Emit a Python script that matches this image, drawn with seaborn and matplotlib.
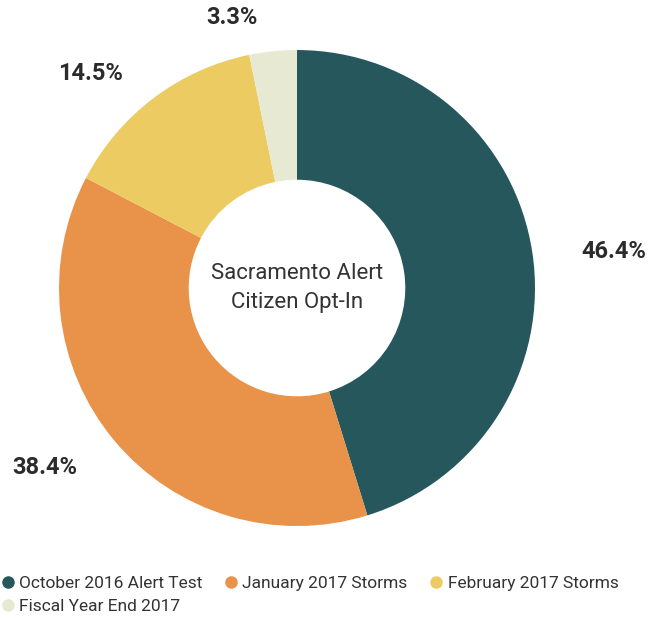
import seaborn as sns
import matplotlib.pyplot as plt
from matplotlib.lines import Line2D
import numpy as np

# data
labels = ['October 2016 Alert Test', 'January 2017 Storms', 'February 2017 Storms', 'Fiscal Year End 2017']
shares = [46.4, 38.4, 14.5, 3.3]
colors = sns.color_palette(['#25575C', '#E8924A', '#ECCB63', '#E7E9D3'])

sns.set_style('white')
plt.rcParams['font.family'] = ['Roboto', 'DejaVu Sans']

total = sum(shares)

fig = plt.figure(figsize=(6.6, 6.19), dpi=100)
ax = fig.add_axes([0.0894, 0.1502, 0.7212, 0.769])

wedges, texts, autotexts = ax.pie(shares, colors=colors, startangle=90, counterclock=False,
                                  radius=1, wedgeprops=dict(width=0.545, linewidth=0),
                                  autopct=lambda p: f'{p * total / 100:.1f}%', pctdistance=1.3)
ax.set_xlim(-1, 1)
ax.set_ylim(-1, 1)
ax.set_aspect('equal')

# nudge labels (radius, angle in degrees)
label_pos = [(1.34, 6.5), (1.30, -144.5), (1.25, 133.9), (1.17, 103.5)]
for t, (r, a) in zip(autotexts, label_pos):
    t.set_position((r * np.cos(np.radians(a)), r * np.sin(np.radians(a))))
    t.set_fontsize(17)
    t.set_fontweight('bold')
    t.set_color('#2b2b2b')
    t.set_ha('center')
    t.set_va('center')

ax.text(0, 0, 'Sacramento Alert\nCitizen Opt-In', ha='center', va='center',
        fontsize=16, color='#333333', linespacing=1.5)

handles = [Line2D([], [], marker='o', linestyle='', markersize=9,
                  markerfacecolor=c, markeredgewidth=0) for c in colors]
order = [0, 3, 1, 2]
fig.legend([handles[i] for i in order], [labels[i] for i in order],
           loc='lower left', bbox_to_anchor=(-0.025, -0.017), ncol=3, frameon=False,
           fontsize=12.5, handletextpad=0.15, columnspacing=1.15, labelspacing=0.45,
           handlelength=1.0, labelcolor='#333333')

fig.savefig('out.png', dpi=100)
